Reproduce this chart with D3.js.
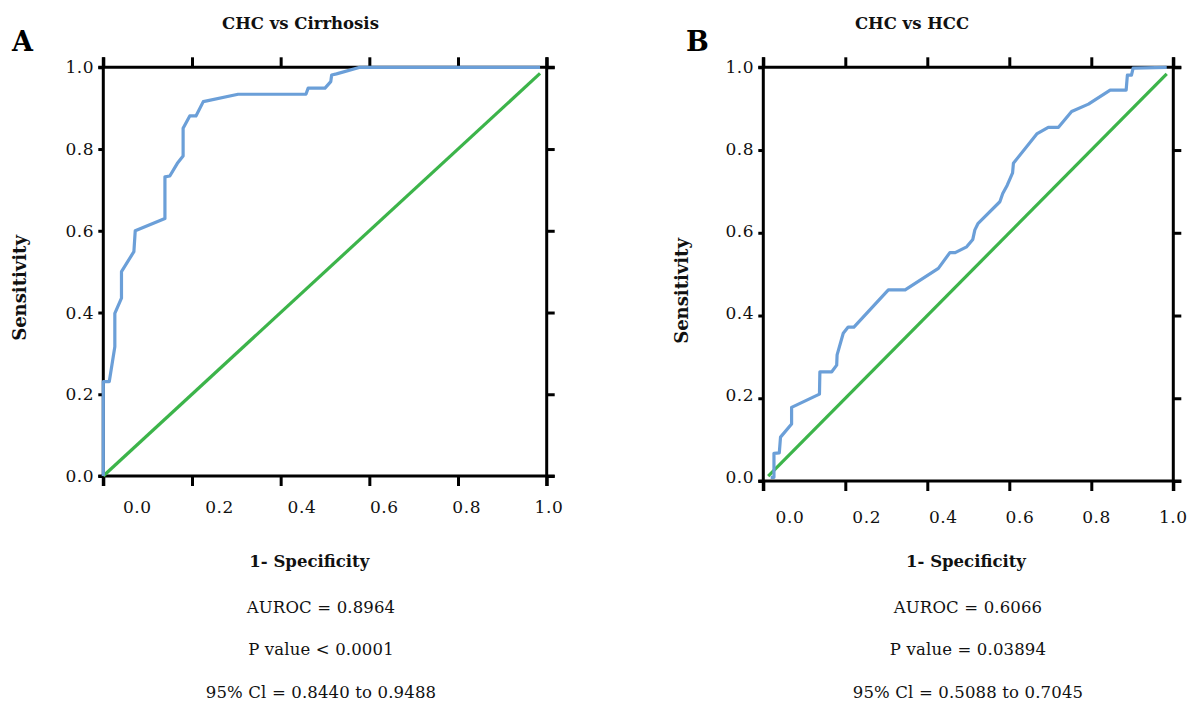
<!DOCTYPE html>
<html>
<head>
<meta charset="utf-8">
<script src="https://cdn.jsdelivr.net/npm/d3@7"></script>
<style>
  html, body { margin: 0; padding: 0; background: #fff; }
  svg { display: block; }
</style>
</head>
<body>
<svg id="chart" width="1190" height="703"></svg>
<script>
// ---------- data ----------
const xTickValues = [0, 0.2, 0.4, 0.6, 0.8, 1.0];
const yTickValues = [0, 0.2, 0.4, 0.6, 0.8, 1.0];
const tickLabels = ["0.0", "0.2", "0.4", "0.6", "0.8", "1.0"];

// Panel A: CHC vs Cirrhosis ROC curve (1 - specificity, sensitivity)
const aFpr = [0, 0, 0.0135, 0.026, 0.026, 0.041, 0.041, 0.069, 0.072, 0.139, 0.139, 0.150, 0.167, 0.180, 0.180, 0.195, 0.209, 0.2255, 0.304, 0.457, 0.462, 0.500, 0.513, 0.515, 0.526, 0.579, 0.985];
const aTpr = [0, 0.231, 0.231, 0.316, 0.398, 0.435, 0.500, 0.549, 0.600, 0.630, 0.732, 0.734, 0.765, 0.783, 0.851, 0.881, 0.881, 0.916, 0.934, 0.934, 0.949, 0.949, 0.965, 0.981, 0.984, 1.0, 1.0];
const aDiag = [0, 0.985];

// Panel B: CHC vs HCC ROC curve
const bFpr = [0.018, 0.026, 0.026, 0.039, 0.042, 0.069, 0.069, 0.137, 0.138, 0.167, 0.179, 0.180, 0.195, 0.207, 0.221, 0.305, 0.346, 0.427, 0.455, 0.468, 0.496, 0.511, 0.516, 0.524, 0.577, 0.584, 0.595, 0.608, 0.610, 0.667, 0.695, 0.720, 0.752, 0.793, 0.846, 0.885, 0.888, 0.898, 0.902, 0.984];
const bTpr = [0.009, 0.009, 0.067, 0.068, 0.106, 0.138, 0.178, 0.210, 0.264, 0.264, 0.280, 0.305, 0.357, 0.372, 0.372, 0.462, 0.462, 0.514, 0.552, 0.552, 0.566, 0.584, 0.607, 0.623, 0.675, 0.695, 0.715, 0.745, 0.768, 0.839, 0.855, 0.855, 0.893, 0.911, 0.945, 0.945, 0.981, 0.981, 0.998, 1.0];
const bDiag = [0.012, 0.984];

const panelLetters = ["A", "B"];
const panelTitles = ["CHC vs Cirrhosis", "CHC vs HCC"];
const xAxisTitle = "1- Specificity";
const yAxisTitle = "Sensitivity";
const aStats = ["AUROC = 0.8964", "P value < 0.0001", "95% Cl = 0.8440 to 0.9488"];
const bStats = ["AUROC = 0.6066", "P value = 0.03894", "95% Cl = 0.5088 to 0.7045"];

// ---------- layout ----------
const FONT = "'DejaVu Serif', serif";
const BLUE = "#6b9fd8";
const GREEN = "#3cb44a";

const panels = [
  {
    fpr: aFpr, tpr: aTpr, diag: aDiag, stats: aStats, letter: panelLetters[0], title: panelTitles[0],
    left: 103.3, right: 546.7, top: 67.3, bottom: 476,
    xLab: [137.3, 549], xLabBase: 513, yLab: [67.3, 476],
    letterX: 12, titleX: 300.5, sensX: 19.5, sensY: 288,
    specX: 309.3, statX: 321
  },
  {
    fpr: bFpr, tpr: bTpr, diag: bDiag, stats: bStats, letter: panelLetters[1], title: panelTitles[1],
    left: 763.3, right: 1173.3, top: 67.3, bottom: 481,
    xLab: [790, 1173.3], xLabBase: 523, yLab: [67, 476.7],
    letterX: 686, titleX: 912, sensX: 681, sensY: 291,
    specX: 966, statX: 968
  }
];

const svg = d3.select("#chart");

panels.forEach(p => {
  const x = d3.scaleLinear().domain([0, 1]).range([p.left, p.right]);
  const y = d3.scaleLinear().domain([0, 1]).range([p.bottom, p.top]);
  const xl = d3.scaleLinear().domain([0, 1]).range(p.xLab);
  const yl = d3.scaleLinear().domain([0, 1]).range([p.yLab[1], p.yLab[0]]);

  const g = svg.append("g");

  // axes (ticks only, frame lines drawn separately)
  const styleAxis = sel => {
    sel.select(".domain").remove();
    sel.selectAll(".tick line").attr("stroke", "#000").attr("stroke-width", 3);
  };
  g.append("g").attr("transform", `translate(0,${y(0)})`)
    .call(d3.axisBottom(x).tickValues(xTickValues).tickSize(10).tickFormat(""))
    .call(styleAxis);
  g.append("g").attr("transform", `translate(0,${y(1)})`)
    .call(d3.axisTop(x).tickValues(xTickValues).tickSize(10).tickFormat(""))
    .call(styleAxis);
  g.append("g").attr("transform", `translate(${x(0)},0)`)
    .call(d3.axisLeft(y).tickValues(yTickValues).tickSize(5).tickFormat(""))
    .call(styleAxis);
  g.append("g").attr("transform", `translate(${x(1)},0)`)
    .call(d3.axisRight(y).tickValues(yTickValues).tickSize(8).tickFormat(""))
    .call(styleAxis);

  // frame lines
  const frame = [
    [x(0) - 5, y(0), x(1) + 8, y(0)],
    [x(0) - 5, y(1), x(1) + 8, y(1)],
    [x(0), y(1) - 10, x(0), y(0) + 10],
    [x(1), y(1) - 10, x(1), y(0) + 10]
  ];
  g.selectAll("line.frame").data(frame).enter().append("line")
    .attr("class", "frame")
    .attr("x1", d => d[0]).attr("y1", d => d[1])
    .attr("x2", d => d[2]).attr("y2", d => d[3])
    .attr("stroke", "#000").attr("stroke-width", 3);

  // ROC curve and reference line (drawn over the frame, as in the figure)
  const line = d3.line().x(d => x(d[0])).y(d => y(d[1]));
  g.append("path")
    .datum(p.diag.map(v => [v, v]))
    .attr("d", line)
    .attr("fill", "none")
    .attr("stroke", GREEN)
    .attr("stroke-width", 3.2);
  g.append("path")
    .datum(p.fpr.map((v, i) => [v, p.tpr[i]]))
    .attr("d", line)
    .attr("fill", "none")
    .attr("stroke", BLUE)
    .attr("stroke-width", 3.2)
    .attr("stroke-linejoin", "round");

  // tick labels
  g.selectAll("text.xl").data(xTickValues).enter().append("text")
    .attr("class", "xl")
    .attr("x", d => xl(d)).attr("y", p.xLabBase)
    .attr("text-anchor", "middle")
    .attr("font-family", FONT).attr("font-size", 17).attr("letter-spacing", 0.6)
    .attr("fill", "#111")
    .text((d, i) => tickLabels[i]);
  g.selectAll("text.yl").data(yTickValues).enter().append("text")
    .attr("class", "yl")
    .attr("x", x(0) - 9).attr("y", d => yl(d))
    .attr("dy", "0.36em")
    .attr("text-anchor", "end")
    .attr("font-family", FONT).attr("font-size", 17).attr("letter-spacing", 0.6)
    .attr("fill", "#111")
    .text((d, i) => tickLabels[i]);

  // panel letter and title
  g.append("text")
    .attr("x", p.letterX).attr("y", 51)
    .attr("font-family", FONT).attr("font-weight", "bold").attr("font-size", 27)
    .attr("fill", "#000")
    .text(p.letter);
  g.append("text")
    .attr("x", p.titleX).attr("y", 29)
    .attr("text-anchor", "middle")
    .attr("font-family", FONT).attr("font-weight", "bold").attr("font-size", 16.5)
    .attr("fill", "#111")
    .text(p.title);

  // y axis title
  g.append("text")
    .attr("transform", `translate(${p.sensX},${p.sensY}) rotate(-90)`)
    .attr("text-anchor", "middle")
    .attr("dominant-baseline", "central")
    .attr("font-family", FONT).attr("font-weight", "bold").attr("font-size", 18)
    .attr("fill", "#111")
    .text(yAxisTitle);

  // x axis title
  g.append("text")
    .attr("x", p.specX).attr("y", 566.5)
    .attr("text-anchor", "middle")
    .attr("font-family", FONT).attr("font-weight", "bold").attr("font-size", 16.5)
    .attr("fill", "#111")
    .text(xAxisTitle);

  // statistics
  const statBaselines = [612.5, 655, 698];
  g.selectAll("text.stat").data(p.stats).enter().append("text")
    .attr("class", "stat")
    .attr("x", p.statX).attr("y", (d, i) => statBaselines[i])
    .attr("text-anchor", "middle")
    .attr("font-family", FONT).attr("font-size", 16.5).attr("letter-spacing", 0.15)
    .attr("fill", "#111")
    .text(d => d);
});
</script>
</body>
</html>
